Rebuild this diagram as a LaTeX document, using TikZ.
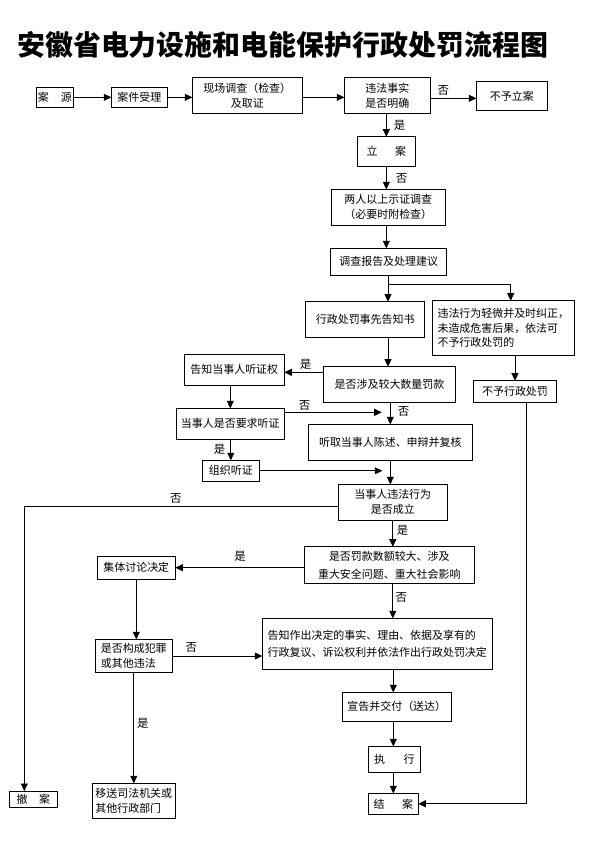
\documentclass[tikz,border=0pt]{standalone}
\usepackage{fontspec}
\usepackage{graphicx}
\setmainfont{Noto Sans CJK SC}
\usetikzlibrary{arrows.meta,calc}
\tikzset{
  box/.style={draw, line width=0.7pt, inner sep=0pt, outer sep=0pt, align=center, font=\fontsize{11}{15}\selectfont},
  boxl/.style={box, align=left},
  arr/.style={line width=0.7pt, -{Triangle[length=7.5bp,width=7bp]}},
  ln/.style={line width=0.7pt},
  lbl/.style={inner sep=0pt, font=\fontsize{11.5}{12}\selectfont},
  titlefont/.style={inner sep=0pt},
}
\newcommand{\mkbox}[7][]{%
  \pgfmathsetmacro\cx{(#3+#5)/2}%
  \pgfmathsetmacro\cy{(#4+#6)/2}%
  \pgfmathsetmacro\bw{#5-#3}%
  \pgfmathsetmacro\bh{#6-#4}%
  \node[box,#1,minimum width=\bw bp,minimum height=\bh bp] (#2) at (\cx,\cy) {#7};}
\begin{document}
\begin{tikzpicture}[x=1bp,y=-1bp]
\useasboundingbox (0,0) rectangle (595,842);
\node[titlefont, anchor=west] (title) at (17,45) {\resizebox{531bp}{!}{\bfseries\fontsize{30}{30}\selectfont 安徽省电力设施和电能保护行政处罚流程图}};

% row 1
\mkbox{src}{36.3}{87.3}{73.3}{107.3}{案\hspace{1.1em}源}
\mkbox{acc}{111.3}{87.3}{167.3}{107.3}{案件受理}
\mkbox{inv}{192.3}{77.7}{302.3}{113.3}{现场调查（检查）\\及取证}
\mkbox{fact}{344.3}{77.7}{430.3}{113.3}{违法事实\\是否明确}
\mkbox{nof}{476.3}{81.3}{547.3}{110.3}{不予立案}
\mkbox{li}{357.3}{136.7}{415.3}{166}{立\hspace{1.6em}案}
\mkbox{two}{331.3}{189.3}{445.3}{225.3}{两人以上示证调查\\（必要时附检查）}
\mkbox{rep}{330.7}{248.3}{446.7}{275.3}{调查报告及处理建议}
\mkbox{pre}{305.7}{301.7}{424.7}{337.3}{行政处罚事先告知书}
\mkbox[boxl]{minor}{432.3}{300.7}{574.3}{355}{违法行为轻微并及时纠正，\\未造成危害后果，依法可\\不予行政处罚的}
\mkbox{big}{323.3}{366.7}{455.7}{402.3}{是否涉及较大数量罚款}
\mkbox{nopen}{473.7}{380.7}{556.3}{402.3}{不予行政处罚}
\mkbox{tell}{184.3}{354.3}{284.3}{385.3}{告知当事人听证权}
\mkbox{req}{176.3}{408.3}{284.3}{439.3}{当事人是否要求听证}
\mkbox{org}{202.3}{460.3}{259.3}{481.3}{组织听证}
\mkbox{hear}{308.3}{424.3}{472.3}{460.3}{听取当事人陈述、申辩并复核}
\mkbox{est}{338.3}{484.3}{447.3}{520}{当事人违法行为\\是否成立}
\mkbox[font=\fontsize{11}{17.7}\selectfont]{large}{304.3}{546.7}{474.3}{583.3}{是否罚款数额较大、涉及\\重大安全问题、重大社会影响}
\mkbox{col}{97.3}{556}{175.3}{579.3}{集体讨论决定}
\mkbox[boxl]{crime}{95.3}{639.3}{172.3}{672.7}{是否构成犯罪\\或其他违法}
\mkbox[boxl,font=\fontsize{11}{17.7}\selectfont]{dec}{262.3}{618.3}{492.3}{669.3}{告知作出决定的事实、理由、依据及享有的\\行政复议、诉讼权利并依法作出行政处罚决定}
\mkbox[boxl]{trans}{92.3}{783.3}{175.3}{818.3}{移送司法机关或\\其他行政部门}
\mkbox{wd}{9.3}{791}{57.3}{807.3}{撤\hspace{1.05em}案}
\mkbox{ann}{342.3}{692.3}{451.3}{721.3}{宣告并交付（送达）}
\mkbox{exe}{368.3}{746.3}{420.3}{772.3}{执\hspace{1.7em}行}
\mkbox{end}{368.3}{793.3}{418.3}{814.3}{结\hspace{1.6em}案}

% connectors
\draw[arr] (src) -- (acc);
\draw[arr] (acc.east) -- (acc.east -| inv.west);
\draw[arr] (acc.east -| inv.east) -- (acc.east -| fact.west);
\draw[arr] ([yshift=-2.8bp]fact.east) -- ([yshift=-2.8bp]fact.east -| nof.west);
\node[lbl] (l1) at (443.3,90) {否};
\draw[arr] (li.north |- fact.south) -- (li.north);
\node[lbl] (l2) at (399.7,125.3) {是};
\draw[arr] (li.south) -- (li.south |- two.north);
\node[lbl] (l3) at (401.7,178.3) {否};
\draw[arr] (li.south |- two.south) -- (li.south |- rep.north);
\coordinate (br) at (388,284.3);
\draw[ln] (br |- rep.south) -- (br);
\draw[arr] (br) -- (br |- pre.north);
\draw[arr] (br) -| ([xshift=7.4bp]minor.north);
\draw[arr] (br |- pre.south) -- (br |- big.north);
\draw[arr] (nopen.north |- minor.south) -- (nopen.north);
\draw[arr] ([yshift=-2.5bp]tell.east -| big.west) -- ([yshift=-2.5bp]tell.east);
\node[lbl] (l4) at (305.5,364.3) {是};
\draw[arr] (req.north |- tell.south) -- (req.north);
\draw[arr] (org.north |- req.south) -- (org.north);
\node[lbl] (l5) at (219.5,449.5) {是};
\coordinate (q1) at (381.7,412.3);
\draw[arr] (q1 -| req.east) -- (q1);
\node[lbl] (l6) at (304.7,405) {否};
\draw[arr] (hear.north |- big.south) -- (hear.north);
\node[lbl] (l7) at (403.7,411.3) {否};
\coordinate (q2) at (382.3,470.7);
\draw[arr] (org.east) -- (org.east -| q2);
\draw[arr] (hear.south) -- (hear.south |- est.north);
\draw[arr] (est.south) -- (est.south |- large.north);
\node[lbl] (l8) at (402.5,530) {是};
\draw[arr] ([yshift=-4.5bp]est.west) -| ([xshift=-9bp]wd.north);
\node[lbl] (l9) at (175.8,498.3) {否};
\draw[arr] (col.east -| large.west) -- (col.east);
\node[lbl] (l10) at (240,556.7) {是};
\draw[arr] (est.south |- large.south) -- (est.south |- dec.north);
\node[lbl] (l11) at (401.3,597.2) {否};
\draw[arr] (col.south) -- (col.south |- crime.north);
\draw[arr] (crime.east) -- (crime.east -| dec.west);
\node[lbl] (l12) at (191.3,647.5) {否};
\draw[arr] (crime.south) -- (crime.south |- trans.north);
\node[lbl] (l13) at (142.8,723.3) {是};
\draw[arr] (end.north |- dec.south) -- (end.north |- ann.north);
\draw[arr] (end.north |- ann.south) -- (end.north |- exe.north);
\draw[arr] (end.north |- exe.south) -- (end.north);
\draw[arr] ([xshift=11.7bp]nopen.south) |- (end.east);
\end{tikzpicture}
\end{document}
